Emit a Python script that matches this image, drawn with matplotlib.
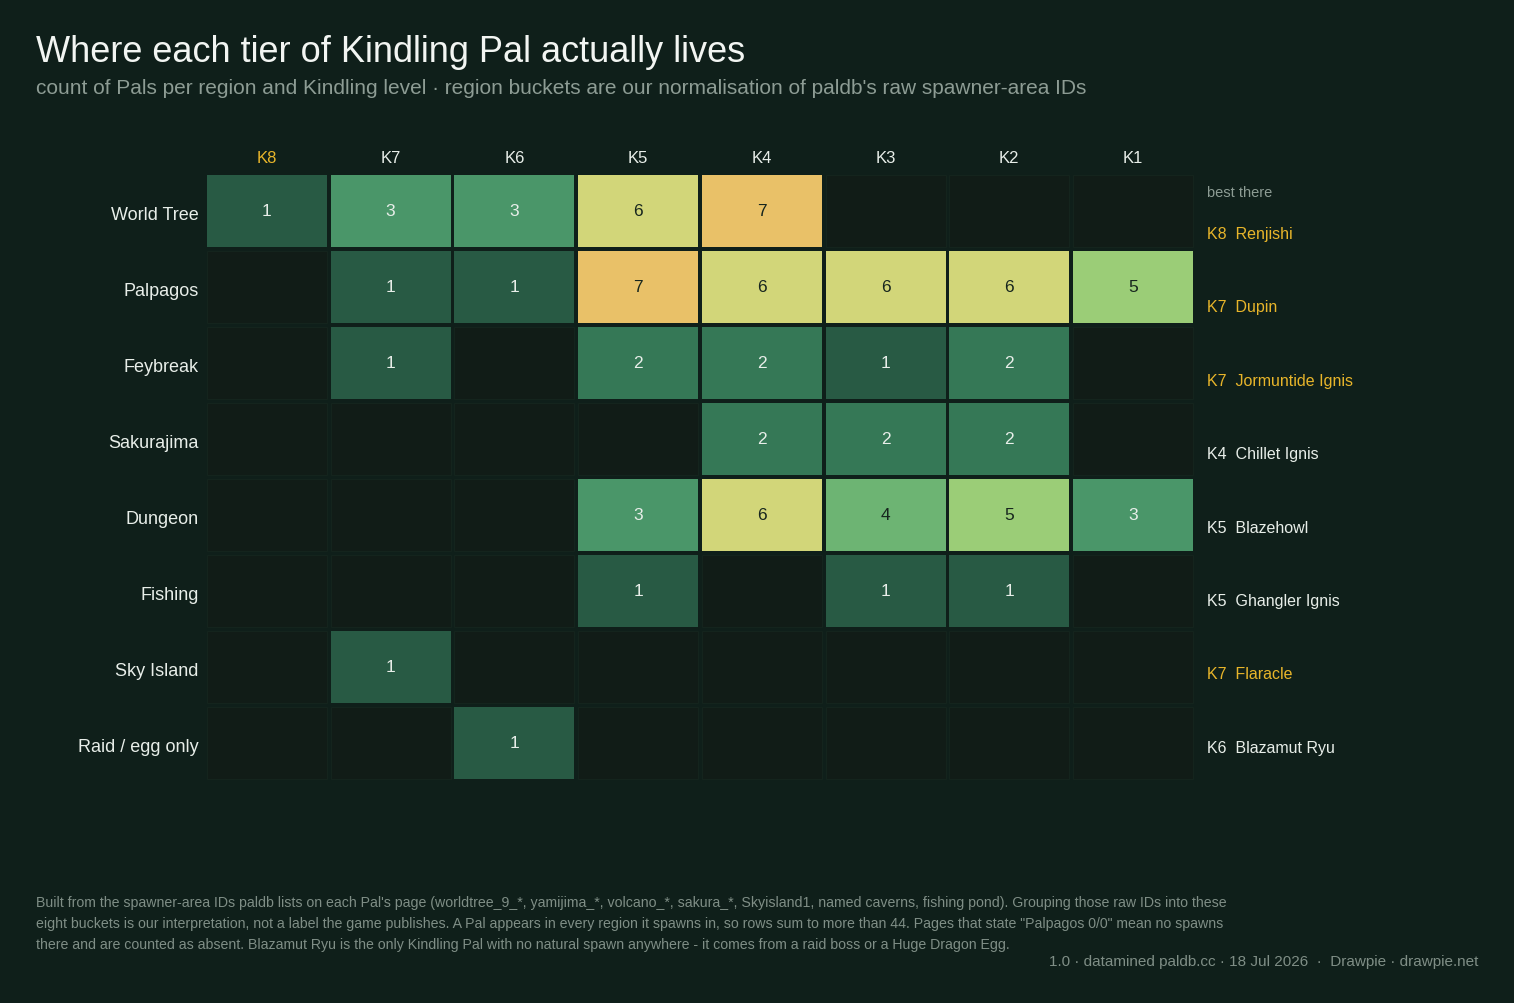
import matplotlib
matplotlib.use('Agg')
import matplotlib.pyplot as plt
from matplotlib.patches import Rectangle
import numpy as np

plt.rcParams['font.family'] = ['Liberation Sans', 'DejaVu Sans']

# data
regions = ['World Tree', 'Palpagos', 'Feybreak', 'Sakurajima', 'Dungeon',
           'Fishing', 'Sky Island', 'Raid / egg only']
tiers = ['K8', 'K7', 'K6', 'K5', 'K4', 'K3', 'K2', 'K1']
counts = np.array([
    [1, 3, 3, 6, 7, 0, 0, 0],
    [0, 1, 1, 7, 6, 6, 6, 5],
    [0, 1, 0, 2, 2, 1, 2, 0],
    [0, 0, 0, 0, 2, 2, 2, 0],
    [0, 0, 0, 3, 6, 4, 5, 3],
    [0, 0, 0, 1, 0, 1, 1, 0],
    [0, 1, 0, 0, 0, 0, 0, 0],
    [0, 0, 1, 0, 0, 0, 0, 0],
])
best_tier = [8, 7, 7, 4, 5, 5, 7, 6]
best_name = ['Renjishi', 'Dupin', 'Jormuntide Ignis', 'Chillet Ignis',
             'Blazehowl', 'Ghangler Ignis', 'Flaracle', 'Blazamut Ryu']

BG = '#0f1f1a'
EMPTY = '#111c17'
GOLD = '#e8b52a'
LIGHT = '#e8eee9'
MUTED = '#8d9c94'
palette = {1: '#285a44', 2: '#357856', 3: '#4a9669', 4: '#6db473',
           5: '#9bcd77', 6: '#d2d679', 7: '#e9c168'}

W, H = 1514, 1004
fig = plt.figure(figsize=(W / 100, H / 100), dpi=100, facecolor=BG)

# grid axes in pixel terms
x0, x1 = 205, 1195
y0, y1 = 174, 782
ax = fig.add_axes([x0 / W, 1 - y1 / H, (x1 - x0) / W, (y1 - y0) / H])
ax.set_facecolor(BG)
ax.set_xlim(0, len(tiers))
ax.set_ylim(len(regions), 0)
ax.axis('off')

gx, gy = 0.016, 0.026
for r in range(len(regions)):
    for c in range(len(tiers)):
        v = counts[r, c]
        if v > 0:
            ax.add_patch(Rectangle((c + gx, r + gy), 1 - 2 * gx, 1 - 2 * gy,
                                   facecolor=palette[v], edgecolor='none'))
            ax.text(c + 0.5, r + 0.5, str(v), ha='center', va='center',
                    fontsize=12.5, color=LIGHT if v <= 3 else '#17261e')
        else:
            ax.add_patch(Rectangle((c + gx, r + gy), 1 - 2 * gx, 1 - 2 * gy,
                                   facecolor=EMPTY, edgecolor='#14241d', lw=0.8))

# column headers
for c, t in enumerate(tiers):
    ax.text(c + 0.5, -0.2, t, ha='center', va='center', fontsize=12,
            color=GOLD if c == 0 else LIGHT, clip_on=False)

# row labels
for r, name in enumerate(regions):
    ax.text(-0.05, r + 0.54, name, ha='right', va='center', fontsize=13,
            color=LIGHT, clip_on=False)

# best-there column
ax.text(8.1, 0.25, 'best there', ha='left', va='center', fontsize=10.5,
        color=MUTED, clip_on=False)
for r in range(len(regions)):
    col = GOLD if best_tier[r] >= 7 else LIGHT
    ax.text(8.1, 0.79 + 0.967 * r, f'K{best_tier[r]}  {best_name[r]}',
            ha='left', va='center', fontsize=11.5, color=col, clip_on=False)

# titles
fig.text(36 / W, 1 - 52 / H, 'Where each tier of Kindling Pal actually lives',
         ha='left', va='center', fontsize=26, color='#f2f5f2')
fig.text(36 / W, 1 - 89 / H,
         "count of Pals per region and Kindling level \u00b7 region buckets are our "
         "normalisation of paldb's raw spawner-area IDs",
         ha='left', va='center', fontsize=15, color=MUTED)

footer = ("Built from the spawner-area IDs paldb lists on each Pal's page (worldtree_9_*, "
          "yamijima_*, volcano_*, sakura_*, Skyisland1, named caverns, fishing pond). "
          "Grouping those raw IDs into these\n"
          "eight buckets is our interpretation, not a label the game publishes. A Pal appears "
          "in every region it spawns in, so rows sum to more than 44. Pages that state "
          "\"Palpagos 0/0\" mean no spawns\n"
          "there and are counted as absent. Blazamut Ryu is the only Kindling Pal with no "
          "natural spawn anywhere - it comes from a raid boss or a Huge Dragon Egg.")
fig.text(36 / W, 1 - 896 / H, footer, ha='left', va='top', fontsize=10.2,
         color='#7f8e86', linespacing=1.62)
fig.text(1478 / W, 1 - 962 / H,
         '1.0 \u00b7 datamined paldb.cc \u00b7 18 Jul 2026  \u00b7  Drawpie \u00b7 drawpie.net',
         ha='right', va='center', fontsize=11, color='#7f8e86')

fig.savefig('out.png', dpi=100, facecolor=BG)
